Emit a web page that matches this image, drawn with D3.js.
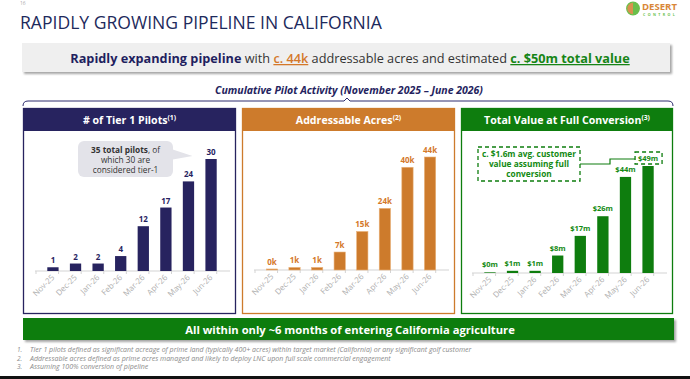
<!DOCTYPE html>
<html><head><meta charset="utf-8">
<script src="https://cdn.jsdelivr.net/npm/d3@7"></script>
<style>body{margin:0;background:#fff}svg{display:block;font-family:"Open Sans","Noto Sans",sans-serif}</style>
</head><body>
<script>
// ---- data ----
const months = ["Nov-25","Dec-25","Jan-26","Feb-26","Mar-26","Apr-26","May-26","Jun-26"];
const pilots = [1,2,2,4,12,17,24,30];
const acresK = [0.4,1.0,1.0,7,15,24,40,44];
const valueM = [0.3,1.0,1.0,8,17,26,44,49];
const panelTitles = ["# of Tier 1 Pilots","Addressable Acres","Total Value at Full Conversion"];
const panelNotes = ["(1)","(2)","(3)"];
const footnotes = [
 "Tier 1 pilots defined as significant acreage of prime land (typically 400+ acres) within target market (California) or any significant golf customer",
 "Addressable acres defined as prime acres managed and likely to deploy LNC upon full scale commercial engagement",
 "Assuming 100% conversion of pipeline"];

const W=690,H=379;
const NAVY="#27235f", ORANGE="#cd7b2c", GREEN="#0e7d0e";
const svg=d3.select("body").append("svg").attr("width",W).attr("height",H);
function fit(sel,w){const n=sel.node();const c=n.getComputedTextLength();const fs=parseFloat(sel.attr("font-size"));sel.attr("font-size",fs*w/c);return sel;}

const defs=svg.append("defs");
const f=defs.append("filter").attr("id","sh").attr("x","-5%").attr("y","-20%").attr("width","110%").attr("height","160%");
f.append("feDropShadow").attr("dx",2).attr("dy",2).attr("stdDeviation",1.2).attr("flood-color","#000").attr("flood-opacity",0.35);

// page number
svg.append("text").attr("x",20).attr("y",5).attr("font-size",5).attr("fill","#aaa").text("16");

// title
fit(svg.append("text").attr("x",20).attr("y",29).attr("font-size",15.5).attr("fill","#1d2a5c")
 .text("RAPIDLY GROWING PIPELINE IN CALIFORNIA"),362);

// logo
const lg=svg.append("g");
lg.append("circle").attr("cx",633).attr("cy",8.5).attr("r",6.3).attr("fill","#d9914f").attr("stroke","#6abf4b").attr("stroke-width",1.2);
lg.append("path").attr("d","M633,2.2 A6.3,6.3 0 0 1 633,14.8 Z").attr("fill","#6abf4b");
fit(lg.append("text").attr("x",642).attr("y",10).attr("font-size",8.5).attr("font-weight",700).attr("fill","#d9873a").text("DESERT"),35);
lg.append("text").attr("x",643).attr("y",15.5).attr("font-size",3.6).attr("font-weight",700).attr("letter-spacing",2.4).attr("fill","#6abf4b").text("CONTROL");

// top banner
svg.append("rect").attr("x",22).attr("y",43).attr("width",648).attr("height",29).attr("fill","#efefef").attr("filter","url(#sh)");
const bt=svg.append("text").attr("x",350).attr("y",63).attr("text-anchor","middle").attr("font-size",14).attr("fill","#333");
bt.append("tspan").attr("font-weight",700).attr("fill","#1f1f5f").text("Rapidly expanding pipeline");
bt.append("tspan").text(" with ");
bt.append("tspan").attr("fill","#d4782a").attr("font-weight",600).attr("text-decoration","underline").text("c. 44k");
bt.append("tspan").text(" addressable acres and estimated ");
bt.append("tspan").attr("font-weight",700).attr("fill","#168516").attr("text-decoration","underline").text("c. $50m total value");
fit(bt,560);

// subtitle + bracket
fit(svg.append("text").attr("x",349).attr("y",94).attr("text-anchor","middle").attr("font-size",10.5)
 .attr("font-weight",700).attr("font-style","italic").attr("fill","#24235e")
 .text("Cumulative Pilot Activity (November 2025 – June 2026)"),268);
svg.append("path").attr("d","M23,106 Q23,101 28,101 L344,101 L347,98 L350,101 L668,101 Q673,101 673,106")
 .attr("fill","none").attr("stroke","#2e2c6e").attr("stroke-width",1);

// panels
const panels=[
 {x0:23,x1:236,color:NAVY,lab:NAVY,data:pilots,fmt:d=>String(d),band:[36,228],base:271,top:159,gap:4},
 {x0:242,x1:455,color:ORANGE,lab:"#d4782a",data:acresK,fmt:d=>Math.round(d)+"k",band:[255,447],base:270,top:157,gap:4},
 {x0:461,x1:673,color:GREEN,lab:"#138a13",data:valueM,fmt:d=>"$"+Math.round(d)+"m",band:[473,665],base:273,top:166,gap:5}
];
const scales=[];
panels.forEach((p,i)=>{
 const g=svg.append("g");
 g.append("rect").attr("x",p.x0+0.5).attr("y",108.5).attr("width",p.x1-p.x0-1).attr("height",205).attr("fill","#fff").attr("stroke",p.color).attr("stroke-width",1.3);
 g.append("rect").attr("x",p.x0).attr("y",108).attr("width",p.x1-p.x0).attr("height",23).attr("fill",p.color);
 const ht=g.append("text").attr("x",(p.x0+p.x1)/2).attr("y",124).attr("text-anchor","middle").attr("fill","#fff").attr("font-size",10.6).attr("font-weight",700);
 ht.append("tspan").text(panelTitles[i]);
 ht.append("tspan").attr("font-size",6.8).attr("dy",-4).text(panelNotes[i]);
 const x=d3.scaleBand().domain(months).range(p.band).padding(0.5);
 const y=d3.scaleLinear().domain([0,d3.max(p.data)]).range([p.base,p.top]);
 scales.push({x,y});
 // axis
 const ax=g.append("g").attr("transform",`translate(0,${p.base})`).call(d3.axisBottom(x).tickSize(0).tickPadding(0));
 ax.select(".domain").attr("stroke","#d3d3d3").attr("d",`M${p.band[0]-1},0H${p.band[1]+2}`);
 ax.selectAll(".tick text").attr("fill","#b0b0b0").attr("font-size",8).attr("font-family","'Open Sans',sans-serif")
   .attr("text-anchor","end").attr("dy",0).attr("transform","translate(2,7) rotate(-45)");
 g.selectAll(".bt").data(d3.range(months.length+1)).join("line")
  .attr("x1",k=>p.band[0]+k*x.step()).attr("x2",k=>p.band[0]+k*x.step())
  .attr("y1",p.base).attr("y2",p.base+3).attr("stroke","#d3d3d3");
 g.selectAll(".bar").data(p.data).join("rect")
  .attr("x",(d,k)=>x(months[k])).attr("width",x.bandwidth())
  .attr("y",d=>y(d)).attr("height",d=>p.base-y(d)).attr("fill",p.color)
  .attr("stroke",i===1?"#eab27a":"none").attr("stroke-width",0.6);
 g.selectAll(".vl").data(p.data).join("text")
  .attr("x",(d,k)=>x(months[k])+x.bandwidth()/2).attr("y",d=>y(d)-p.gap)
  .attr("text-anchor","middle").attr("font-size",i===2?7.5:8).attr("font-weight",700).attr("fill",p.lab).text(p.fmt);
});

// callout panel 1
{
 const {x,y}=scales[0];
 const cg=svg.append("g");
 const tipX=x(months[6])+x.bandwidth()/2+4, tipY=y(pilots[7])-3;
 cg.append("path").attr("d",`M150,142 L${tipX},${tipY} L170,160 Z`).attr("fill","#e3e3e9");
 cg.append("rect").attr("x",78).attr("y",141).attr("width",95).attr("height",36).attr("rx",6).attr("fill","#e3e3e9");
 const t1=cg.append("text").attr("x",125.5).attr("y",153).attr("text-anchor","middle").attr("font-size",8.3).attr("fill","#333");
 t1.append("tspan").attr("font-weight",700).text("35 total pilots");
 t1.append("tspan").text(", of");
 cg.append("text").attr("x",125.5).attr("y",163).attr("text-anchor","middle").attr("font-size",8.3).attr("fill","#333").text("which 30 are");
 cg.append("text").attr("x",125.5).attr("y",173).attr("text-anchor","middle").attr("font-size",8.3).attr("fill","#333").text("considered tier-1");
}
// callout panel 3
{
 const {x,y}=scales[2];
 const cg=svg.append("g");
 cg.append("rect").attr("x",478).attr("y",147).attr("width",102).attr("height",34).attr("fill","none")
  .attr("stroke",GREEN).attr("stroke-width",1.3).attr("stroke-dasharray","4,3");
 ["c. $1.6m avg. customer","value assuming full","conversion"].forEach((s,k)=>
  cg.append("text").attr("x",529).attr("y",157+k*10).attr("text-anchor","middle").attr("font-size",8.3).attr("font-weight",700).attr("fill","#138a13").text(s));
 const cx=x(months[7])+x.bandwidth()/2, ly=y(valueM[7])-5;
 cg.append("rect").attr("x",cx-13).attr("y",ly-9).attr("width",27).attr("height",12).attr("fill","none")
  .attr("stroke",GREEN).attr("stroke-width",1.3).attr("stroke-dasharray","4,3");
 cg.append("path").attr("d",`M580,164 H610 V159 H${cx-13}`).attr("fill","none").attr("stroke",GREEN).attr("stroke-width",1.2);
}

// bottom banner
svg.append("rect").attr("x",23).attr("y",318).attr("width",651).attr("height",22).attr("fill","#0a7d0a").attr("filter","url(#sh)");
fit(svg.append("text").attr("x",350).attr("y",334).attr("text-anchor","middle").attr("font-size",13).attr("font-weight",700).attr("fill","#fff")
 .text("All within only ~6 months of entering California agriculture"),330);

// footnotes
let fs=7;
footnotes.forEach((s,k)=>{
 svg.append("text").attr("x",17).attr("y",352+k*8.5).attr("font-size",6.5).attr("font-style","italic").attr("fill","#8a8a8a").text((k+1)+".");
 const t=svg.append("text").attr("x",30).attr("y",352+k*8.5).attr("font-size",fs).attr("font-style","italic").attr("fill","#8a8a8a").text(s);
 if(k===0){fit(t,442);fs=parseFloat(t.attr("font-size"));}
});
svg.append("rect").attr("x",0).attr("y",376).attr("width",W).attr("height",3).attr("fill","#111");
</script>
</body></html>
